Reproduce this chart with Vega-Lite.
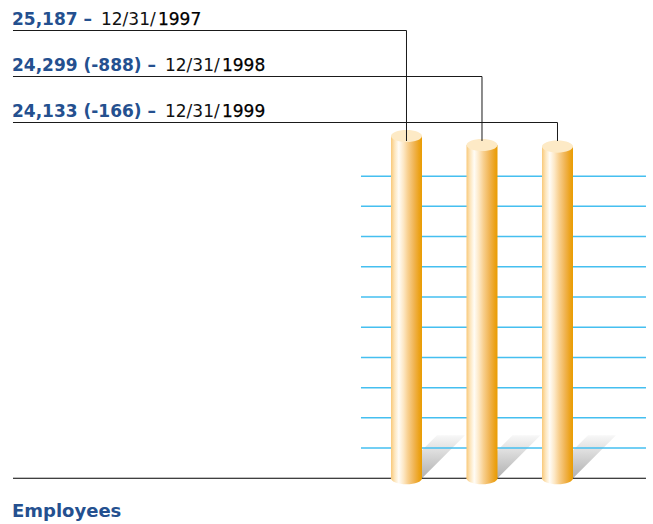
{
  "$schema": "https://vega.github.io/schema/vega-lite/v6.json",
  "width": 653,
  "height": 524,
  "autosize": {"type": "none"},
  "padding": 0,
  "background": "#ffffff",
  "config": {"view": {"stroke": null}},
  "datasets": {
    "emp": [
      {"year": 1997, "value": 25187, "head": "25,187 –", "date": "12/31/", "yr": "1997"},
      {"year": 1998, "value": 24299, "head": "24,299 (-888) –", "date": "12/31/", "yr": "1998"},
      {"year": 1999, "value": 24133, "head": "24,133 (-166) –", "date": "12/31/", "yr": "1999"}
    ],
    "grid": [
      {"v": 21200}, {"v": 18200}, {"v": 15200}, {"v": 12200}, {"v": 9200},
      {"v": 6200}, {"v": 3200}, {"v": 200}, {"v": -2800}, {"v": -5800}
    ],
    "caption": [{"t": "Employees"}]
  },
  "resolve": {"scale": {"y": "independent"}},
  "layer": [
    {
      "layer": [
        {
          "data": {"name": "emp"},
          "mark": {"type": "point", "filled": true, "opacity": 1, "strokeWidth": 0, "size": 4,
            "shape": "M30.5,-43L58.5,-43L15.5,0L-12.5,0Z",
            "fill": {"gradient": "linear", "x1": 0, "y1": 0, "x2": 0, "y2": 1,
              "stops": [{"offset": 0, "color": "#f8f8f8"}, {"offset": 1, "color": "#b0b0b0"}]}},
          "encoding": {
            "x": {"field": "year", "type": "quantitative", "axis": null, "scale": {"domain": [1991.616, 2000.265], "nice": false, "zero": false, "padding": 0}},
            "y": {"datum": -8800, "type": "quantitative", "axis": null, "scale": {"domain": [-13341.4, 38691.8], "nice": false, "zero": false, "padding": 0}}
          }
        },
        {
          "data": {"name": "grid"},
          "mark": {"type": "rule", "color": "#45bff0", "strokeWidth": 1.5},
          "encoding": {
            "x": {"datum": 1996.397, "type": "quantitative", "axis": null, "scale": {"domain": [1991.616, 2000.265], "nice": false, "zero": false, "padding": 0}},
            "x2": {"datum": 2000.172},
            "y": {"field": "v", "type": "quantitative", "axis": null, "scale": {"domain": [-13341.4, 38691.8], "nice": false, "zero": false, "padding": 0}}
          }
        },
        {
          "data": {"values": [{}]},
          "mark": {"type": "rule", "color": "#000000", "strokeWidth": 1.2},
          "encoding": {
            "x": {"datum": 1991.788, "type": "quantitative", "axis": null, "scale": {"domain": [1991.616, 2000.265], "nice": false, "zero": false, "padding": 0}},
            "x2": {"datum": 2000.172},
            "y": {"datum": -8800, "type": "quantitative", "axis": null, "scale": {"domain": [-13341.4, 38691.8], "nice": false, "zero": false, "padding": 0}}
          }
        },
        {
          "data": {"name": "emp"},
          "mark": {"type": "point", "filled": true, "opacity": 1, "strokeWidth": 0, "size": 961,
            "shape": "M-1,0A1,0.39 0 1,1 1,0A1,0.39 0 1,1 -1,0Z",
            "fill": {"gradient": "linear", "x1": 0, "y1": 0, "x2": 1, "y2": 0,
              "stops": [
                {"offset": 0, "color": "#f9c97a"}, {"offset": 0.12, "color": "#fde6bd"},
                {"offset": 0.25, "color": "#fffcf6"}, {"offset": 0.4, "color": "#fde8c6"},
                {"offset": 0.55, "color": "#f8cf8e"}, {"offset": 0.75, "color": "#f0b350"},
                {"offset": 0.9, "color": "#eca31c"}, {"offset": 1, "color": "#e99c00"}]}},
          "encoding": {
            "x": {"field": "year", "type": "quantitative", "axis": null, "scale": {"domain": [1991.616, 2000.265], "nice": false, "zero": false, "padding": 0}},
            "y": {"datum": -8800, "type": "quantitative", "axis": null, "scale": {"domain": [-13341.4, 38691.8], "nice": false, "zero": false, "padding": 0}}
          }
        },
        {
          "data": {"name": "emp"},
          "mark": {"type": "bar", "orient": "vertical", "size": 31,
            "fill": {"gradient": "linear", "x1": 0, "y1": 0, "x2": 1, "y2": 0,
              "stops": [
                {"offset": 0, "color": "#f9c97a"}, {"offset": 0.12, "color": "#fde6bd"},
                {"offset": 0.25, "color": "#fffcf6"}, {"offset": 0.4, "color": "#fde8c6"},
                {"offset": 0.55, "color": "#f8cf8e"}, {"offset": 0.75, "color": "#f0b350"},
                {"offset": 0.9, "color": "#eca31c"}, {"offset": 1, "color": "#e99c00"}]}},
          "encoding": {
            "x": {"field": "year", "type": "quantitative", "axis": null, "scale": {"domain": [1991.616, 2000.265], "nice": false, "zero": false, "padding": 0}},
            "y": {"field": "value", "type": "quantitative", "axis": null, "scale": {"domain": [-13341.4, 38691.8], "nice": false, "zero": false, "padding": 0}},
            "y2": {"datum": -8800}
          }
        },
        {
          "data": {"name": "emp"},
          "mark": {"type": "point", "filled": true, "opacity": 1, "strokeWidth": 0, "size": 961,
            "shape": "M-1,0A1,0.39 0 1,1 1,0A1,0.39 0 1,1 -1,0Z",
            "fill": "#fdeac6"},
          "encoding": {
            "x": {"field": "year", "type": "quantitative", "axis": null, "scale": {"domain": [1991.616, 2000.265], "nice": false, "zero": false, "padding": 0}},
            "y": {"field": "value", "type": "quantitative", "axis": null, "scale": {"domain": [-13341.4, 38691.8], "nice": false, "zero": false, "padding": 0}}
          }
        }
      ]
    },
    {
      "layer": [
        {
          "data": {"name": "emp"},
          "mark": {"type": "rule", "color": "#1a1a1a", "strokeWidth": 1},
          "encoding": {
            "x": {"field": "year", "type": "quantitative", "axis": null, "scale": {"domain": [1991.616, 2000.265], "nice": false, "zero": false, "padding": 0}},
            "x2": {"datum": 1991.788},
            "y": {"field": "year", "type": "ordinal", "axis": null, "scale": {"type": "point", "domain": [1997, 1998, 1999], "range": [30.5, 122.5], "padding": 0}}
          }
        },
        {
          "data": {"name": "emp"},
          "mark": {"type": "rule", "color": "#1a1a1a", "strokeWidth": 1},
          "encoding": {
            "x": {"field": "year", "type": "quantitative", "axis": null, "scale": {"domain": [1991.616, 2000.265], "nice": false, "zero": false, "padding": 0}},
            "y": {"field": "year", "type": "ordinal", "axis": null, "scale": {"type": "point", "domain": [1997, 1998, 1999], "range": [30.5, 122.5], "padding": 0}},
            "y2": {"value": 141}
          }
        },
        {
          "data": {"name": "emp"},
          "mark": {"type": "text", "align": "left", "baseline": "alphabetic", "dx": -1, "dy": -6,
            "font": "DejaVu Sans", "fontSize": 17, "fontWeight": "bold", "color": "#24508f"},
          "encoding": {
            "x": {"datum": 1991.788, "type": "quantitative", "axis": null, "scale": {"domain": [1991.616, 2000.265], "nice": false, "zero": false, "padding": 0}},
            "y": {"field": "year", "type": "ordinal", "axis": null, "scale": {"type": "point", "domain": [1997, 1998, 1999], "range": [30.5, 122.5], "padding": 0}},
            "text": {"field": "head"}
          }
        },
        {
          "data": {"name": "emp"},
          "transform": [{"filter": "datum.year == 1997"}],
          "mark": {"type": "text", "align": "left", "baseline": "alphabetic", "dx": 88, "dy": -6,
            "font": "DejaVu Sans", "fontSize": 17, "color": "#111111"},
          "encoding": {
            "x": {"datum": 1991.788, "type": "quantitative", "axis": null, "scale": {"domain": [1991.616, 2000.265], "nice": false, "zero": false, "padding": 0}},
            "y": {"field": "year", "type": "ordinal", "axis": null, "scale": {"type": "point", "domain": [1997, 1998, 1999], "range": [30.5, 122.5], "padding": 0}},
            "text": {"field": "date"}
          }
        },
        {
          "data": {"name": "emp"},
          "transform": [{"filter": "datum.year == 1997"}],
          "mark": {"type": "text", "align": "left", "baseline": "alphabetic", "dx": 145, "dy": -6,
            "font": "DejaVu Sans", "fontSize": 17, "color": "#000000", "stroke": "#000000", "strokeWidth": 0.25},
          "encoding": {
            "x": {"datum": 1991.788, "type": "quantitative", "axis": null, "scale": {"domain": [1991.616, 2000.265], "nice": false, "zero": false, "padding": 0}},
            "y": {"field": "year", "type": "ordinal", "axis": null, "scale": {"type": "point", "domain": [1997, 1998, 1999], "range": [30.5, 122.5], "padding": 0}},
            "text": {"field": "yr"}
          }
        },
        {
          "data": {"name": "emp"},
          "transform": [{"filter": "datum.year != 1997"}],
          "mark": {"type": "text", "align": "left", "baseline": "alphabetic", "dx": 152, "dy": -6,
            "font": "DejaVu Sans", "fontSize": 17, "color": "#111111"},
          "encoding": {
            "x": {"datum": 1991.788, "type": "quantitative", "axis": null, "scale": {"domain": [1991.616, 2000.265], "nice": false, "zero": false, "padding": 0}},
            "y": {"field": "year", "type": "ordinal", "axis": null, "scale": {"type": "point", "domain": [1997, 1998, 1999], "range": [30.5, 122.5], "padding": 0}},
            "text": {"field": "date"}
          }
        },
        {
          "data": {"name": "emp"},
          "transform": [{"filter": "datum.year != 1997"}],
          "mark": {"type": "text", "align": "left", "baseline": "alphabetic", "dx": 209, "dy": -6,
            "font": "DejaVu Sans", "fontSize": 17, "color": "#000000", "stroke": "#000000", "strokeWidth": 0.25},
          "encoding": {
            "x": {"datum": 1991.788, "type": "quantitative", "axis": null, "scale": {"domain": [1991.616, 2000.265], "nice": false, "zero": false, "padding": 0}},
            "y": {"field": "year", "type": "ordinal", "axis": null, "scale": {"type": "point", "domain": [1997, 1998, 1999], "range": [30.5, 122.5], "padding": 0}},
            "text": {"field": "yr"}
          }
        },
        {
          "data": {"name": "caption"},
          "mark": {"type": "text", "align": "left", "baseline": "alphabetic", "dx": -1,
            "font": "DejaVu Sans", "fontSize": 18, "fontWeight": "bold", "color": "#24508f"},
          "encoding": {
            "x": {"datum": 1991.788, "type": "quantitative", "axis": null, "scale": {"domain": [1991.616, 2000.265], "nice": false, "zero": false, "padding": 0}},
            "y": {"value": 517},
            "text": {"field": "t"}
          }
        }
      ]
    }
  ]
}
